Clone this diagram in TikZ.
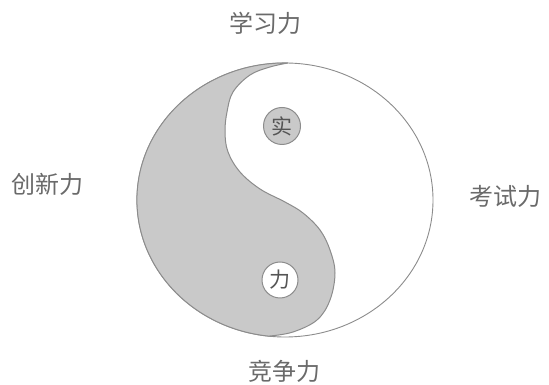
\documentclass[tikz,border=0pt]{standalone}
\usepackage{fontspec}
\newfontfamily\cjk{Noto Sans CJK SC}
\definecolor{lbl}{HTML}{6A6A6A}
\definecolor{edge}{HTML}{8C8C8C}
\definecolor{yin}{HTML}{C9C9C9}
\definecolor{ink}{HTML}{555555}
\tikzset{
  label/.style={font=\cjk\fontsize{24}{24}\selectfont, text=lbl, inner sep=0pt},
  dot/.style={circle, draw=edge, line width=1pt, minimum size=37pt, inner sep=0pt,
              font=\cjk\fontsize{21}{21}\selectfont, text=ink},
}
\begin{document}
\begin{tikzpicture}[x=1pt,y=1pt]
\useasboundingbox (0,0) rectangle (549,385);
% outer disc
\draw[edge, line width=0.9pt, fill=white] (285,185) ellipse [x radius=148, y radius=137];
% yin region
\coordinate (tip) at (288,322);
\filldraw[draw=edge, line width=1pt, fill=yin]
  (tip) arc[start angle=88.8, end angle=264.2, x radius=148, y radius=137]
  -- plot[smooth, tension=0.6] coordinates {(270,49) (293,53) (317,65) (330,85) (335,112) (330,135) (320,155) (303,172) (285,183) (260,196) (240,213) (228,233) (225,253) (227,273) (233,293) (250,310) (270,318) (288,322)} -- cycle;
% small circles
\node[dot, fill=yin] (shi) at (282,259) {实};
\node[dot, fill=white, minimum size=36pt] (li) at (280,105) {力};
% labels
\node[label] (top) at (265,362) {学习力};
\node[label] (left) at (48,201) {创新力};
\node[label] (right) at (505,189) {考试力};
\node[label] (bottom) at (284,14) {竞争力};
\end{tikzpicture}
\end{document}
